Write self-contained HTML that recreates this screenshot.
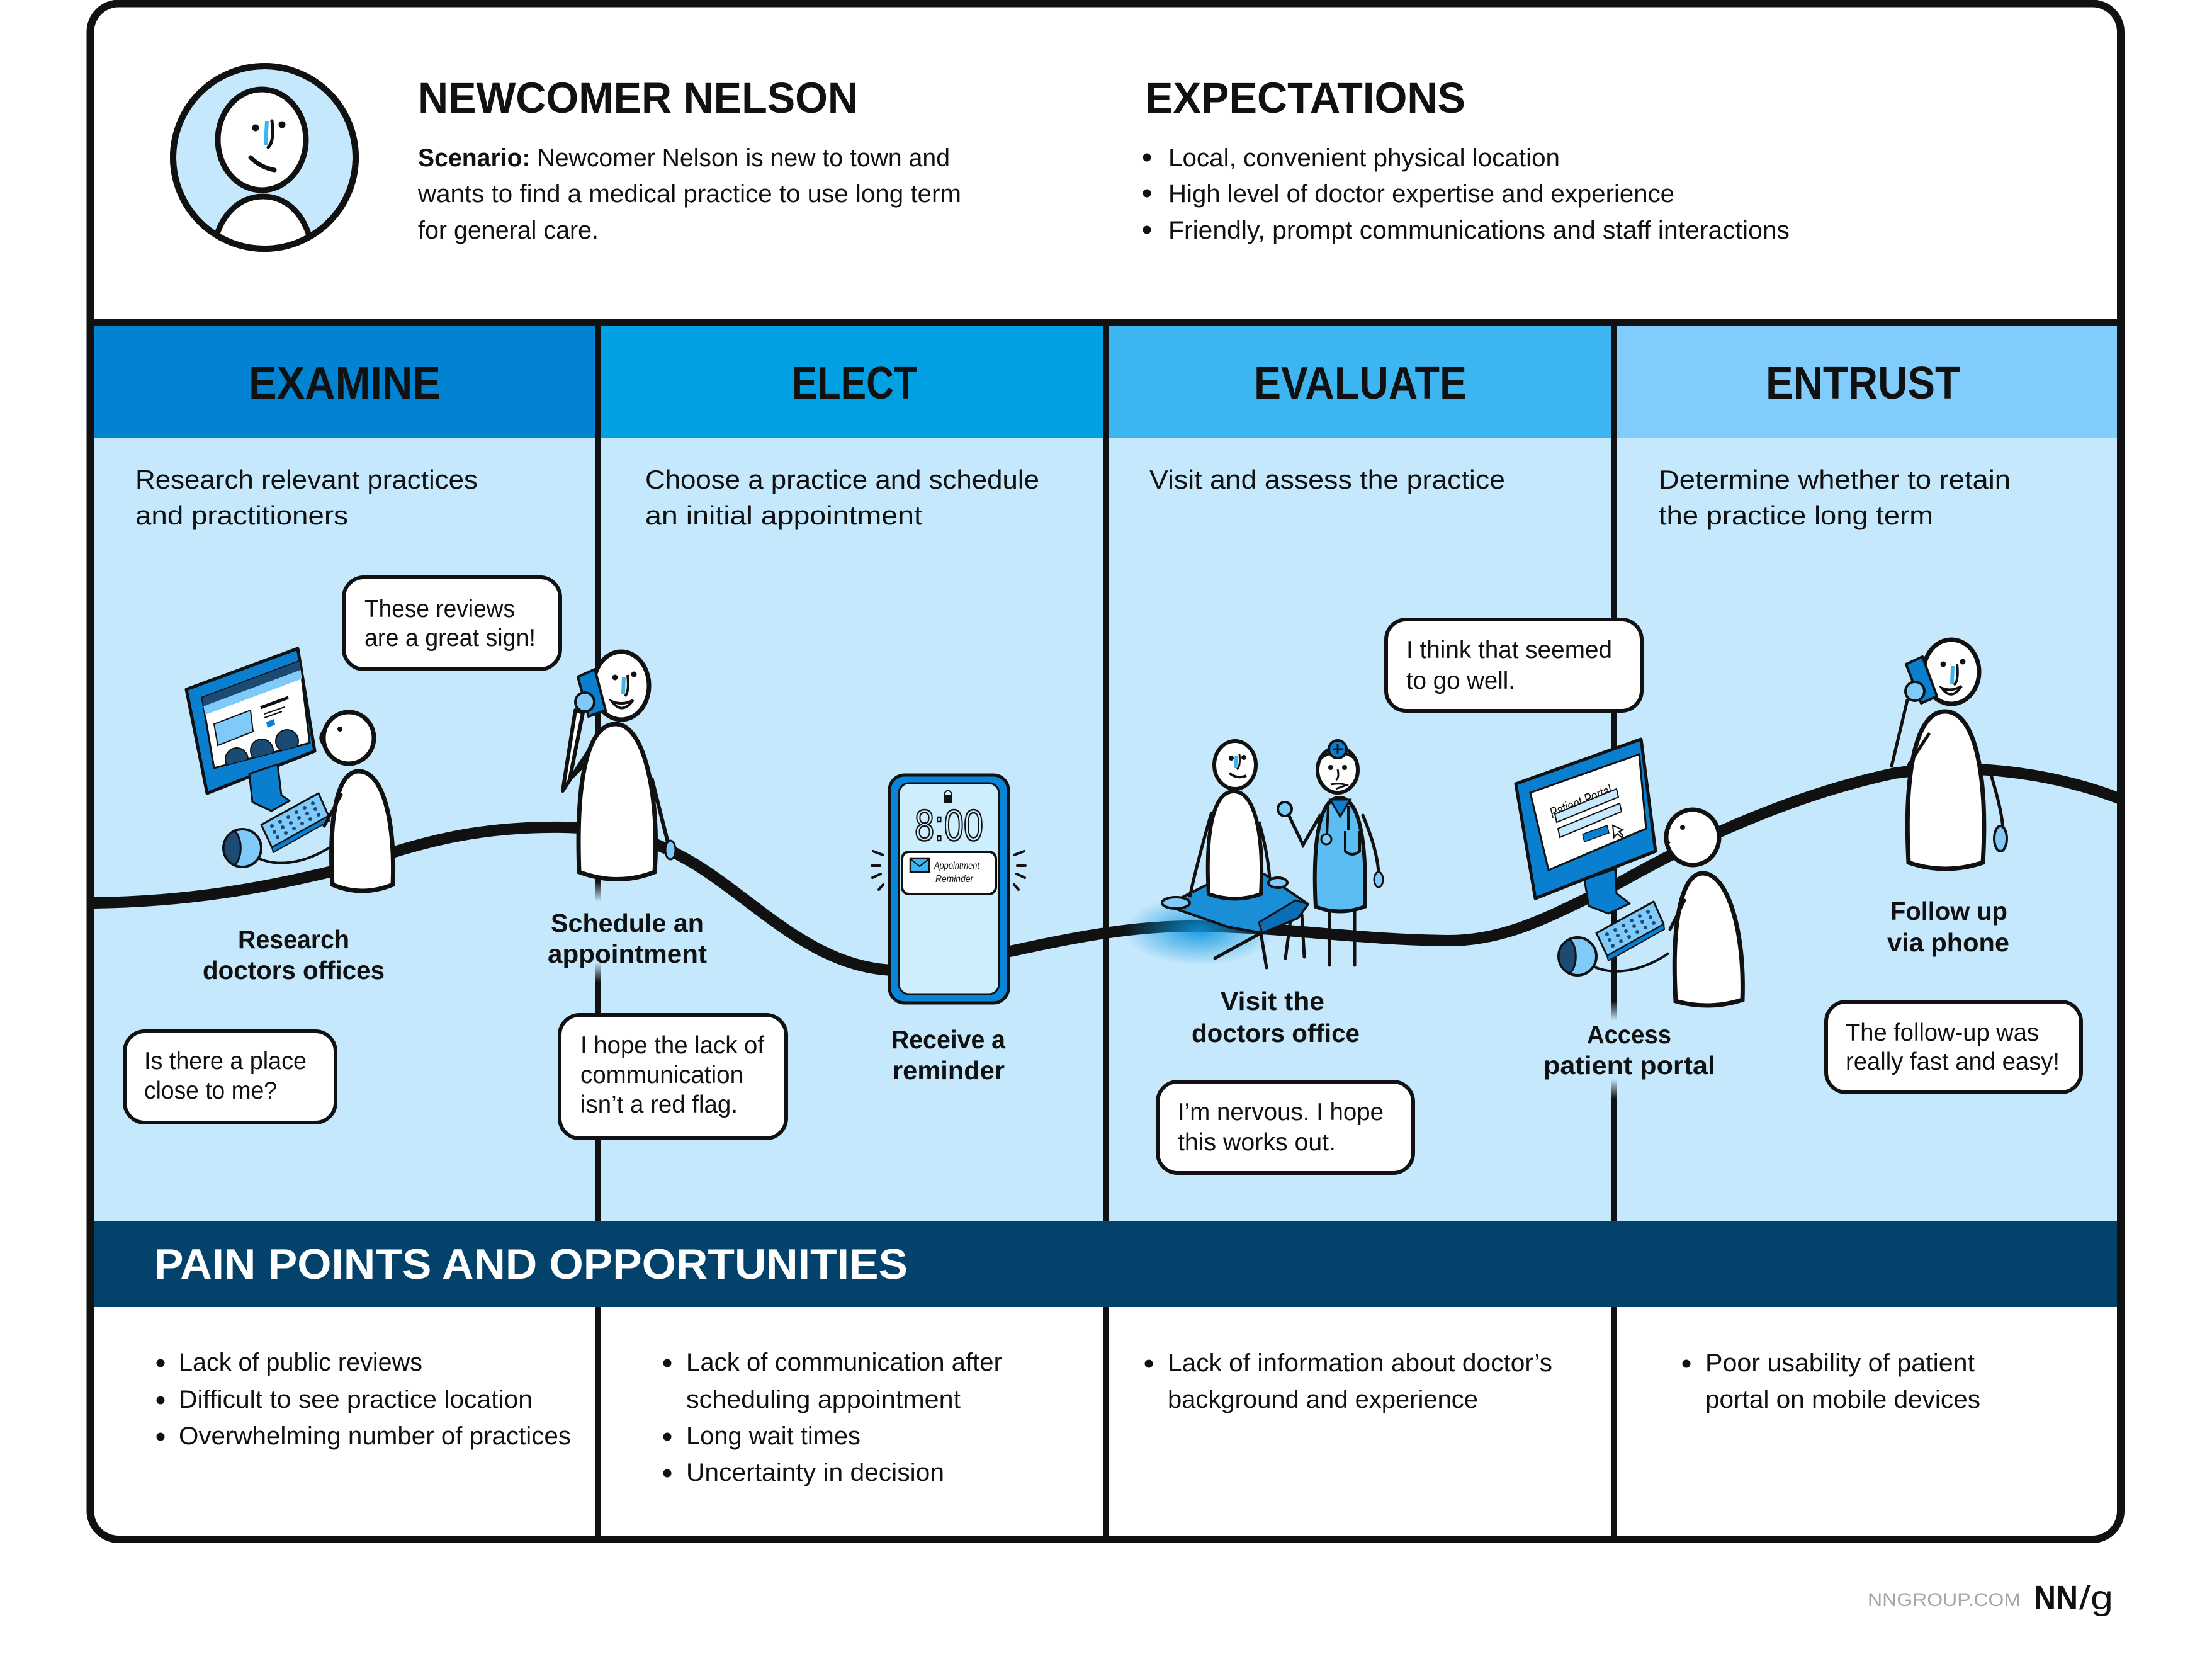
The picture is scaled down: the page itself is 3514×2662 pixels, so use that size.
<!DOCTYPE html>
<html><head><meta charset="utf-8"><style>
html,body{margin:0;padding:0;background:#fff;}
svg{display:block;}
text{font-family:"Liberation Sans",Arial,sans-serif;fill:#111;}
</style></head><body>
<svg width="3514" height="2662" viewBox="0 0 3514 2662" xmlns="http://www.w3.org/2000/svg">
<defs>
<linearGradient id="fadeV" x1="0" y1="0" x2="0" y2="1">
<stop offset="0" stop-color="#c5e8fc" stop-opacity="0"/>
<stop offset="0.2" stop-color="#c5e8fc" stop-opacity="1"/>
<stop offset="0.8" stop-color="#c5e8fc" stop-opacity="1"/>
<stop offset="1" stop-color="#c5e8fc" stop-opacity="0"/>
</linearGradient>
<radialGradient id="glow" cx="0.5" cy="0.5" r="0.5">
<stop offset="0" stop-color="#0a95de" stop-opacity="0.9"/>
<stop offset="1" stop-color="#0a95de" stop-opacity="0"/>
</radialGradient>
<clipPath id="avc"><circle cx="420" cy="250" r="141"/></clipPath>
<clipPath id="scr1c"><polygon points="321,1108 476,1050 492,1180 340,1220"/></clipPath>
<g id="kbm">
<polygon points="415,1310 506,1260 522,1296 432,1346" fill="#7fcaf8" stroke="#111" stroke-width="3" stroke-linejoin="round"/>
<polygon points="432,1346 522,1296 523,1304 434,1354" fill="#0a7fcf" stroke="#111" stroke-width="2"/>
<g fill="#1b4a72">
<circle cx="432" cy="1312" r="3"/><circle cx="445" cy="1305" r="3"/><circle cx="458" cy="1298" r="3"/><circle cx="471" cy="1290" r="3"/><circle cx="484" cy="1283" r="3"/><circle cx="497" cy="1276" r="3"/>
<circle cx="436" cy="1321" r="3"/><circle cx="449" cy="1314" r="3"/><circle cx="462" cy="1307" r="3"/><circle cx="475" cy="1299" r="3"/><circle cx="488" cy="1292" r="3"/><circle cx="501" cy="1285" r="3"/>
<circle cx="441" cy="1330" r="3"/><circle cx="454" cy="1323" r="3"/><circle cx="467" cy="1316" r="3"/><circle cx="480" cy="1308" r="3"/><circle cx="493" cy="1301" r="3"/><circle cx="506" cy="1294" r="3"/>
</g>
<path d="M 408,1362 C 440,1378 485,1372 530,1342" fill="none" stroke="#111" stroke-width="4"/>
<circle cx="385" cy="1347" r="30" fill="#7fcaf8" stroke="#111" stroke-width="4"/>
<path d="M 372,1320 A 30 30 0 0 0 372,1374 A 14 28 0 0 0 372,1320 Z" fill="#1b4a72" stroke="#111" stroke-width="3"/>
</g>
</defs>

<rect width="3514" height="2662" fill="#fff"/>

<!-- stage header bands -->
<rect x="145" y="517" width="805" height="180" fill="#0283d1"/>
<rect x="950" y="517" width="807" height="180" fill="#00a0e3"/>
<rect x="1757" y="517" width="807" height="180" fill="#3db5f1"/>
<rect x="2564" y="517" width="805" height="180" fill="#80ccfc"/>
<!-- body -->
<rect x="145" y="696" width="3224" height="1244" fill="#c5e8fc"/>
<!-- separator -->
<rect x="145" y="506" width="3224" height="11" fill="#111"/>
<!-- dividers -->
<rect x="946" y="511" width="8" height="1934" fill="#111"/>
<rect x="1753" y="511" width="8" height="1934" fill="#111"/>
<rect x="2560" y="511" width="8" height="1934" fill="#111"/>
<rect x="940" y="1400" width="20" height="160" fill="url(#fadeV)"/>
<rect x="2554" y="1590" width="20" height="155" fill="url(#fadeV)"/>

<!-- journey curve -->
<path d="M150,1434 C 300,1432 420,1410 527,1384 C 640,1350 720,1316 870,1314 C 980,1312 1040,1335 1100,1370 C 1200,1430 1290,1537 1420,1541 L 1600,1512 C 1700,1490 1800,1470 1900,1471 C 2050,1473 2150,1492 2300,1494 C 2400,1494 2470,1450 2571,1403 C 2700,1330 2850,1262 3010,1228 C 3150,1208 3280,1235 3366,1268" fill="none" stroke="#111" stroke-width="18" stroke-linecap="round"/>

<!-- avatar -->
<circle cx="420" cy="250" r="145" fill="#c5e8fc" stroke="#111" stroke-width="10"/>
<path d="M 338,410 C 342,345 378,312 418,312 C 458,312 492,345 498,410 Z" fill="#fff" stroke="#111" stroke-width="9" clip-path="url(#avc)"/>
<circle cx="420" cy="250" r="145" fill="none" stroke="#111" stroke-width="10"/>
<ellipse cx="416" cy="222" rx="70" ry="80" fill="#fff" stroke="#111" stroke-width="9"/>
<circle cx="406" cy="203" r="5.5" fill="#111"/><circle cx="448" cy="198" r="5.5" fill="#111"/>
<path d="M 424,192 L 422,230" stroke="#3db5f1" stroke-width="6" fill="none"/>
<path d="M 432,192 Q 436,225 426,234" stroke="#111" stroke-width="5" fill="none" stroke-linecap="round"/>
<path d="M 398,250 Q 414,266 436,270" stroke="#111" stroke-width="7" fill="none" stroke-linecap="round"/>

<!-- Figure 1: research -->
<polygon points="296,1095 473,1030 500,1193 329,1260" fill="#0a7fcf" stroke="#111" stroke-width="5" stroke-linejoin="round"/>
<polygon points="321,1108 476,1050 492,1180 340,1220" fill="#fff" stroke="#111" stroke-width="3"/>
<g clip-path="url(#scr1c)">
<polygon points="321,1108 476,1050 478,1064 323,1122" fill="#1b4a72"/>
<polygon points="323,1122 478,1064 480,1078 324,1136" fill="#7fcaf8"/>
<polygon points="340,1150 398,1128 402,1162 346,1184" fill="#7fcaf8" stroke="#111" stroke-width="2"/>
<line x1="414" y1="1124" x2="458" y2="1108" stroke="#111" stroke-width="5"/>
<line x1="420" y1="1134" x2="452" y2="1123" stroke="#111" stroke-width="2"/>
<line x1="420" y1="1140" x2="448" y2="1130" stroke="#111" stroke-width="2"/>
<polygon points="423,1147 435,1142 437,1151 425,1156" fill="#0a7fcf"/>
<circle cx="376" cy="1206" r="18" fill="#1b4a72" stroke="#111" stroke-width="2"/>
<circle cx="416" cy="1192" r="18" fill="#1b4a72" stroke="#111" stroke-width="2"/>
<circle cx="456" cy="1177" r="18" fill="#1b4a72" stroke="#111" stroke-width="2"/>
</g>
<polygon points="396,1229 441,1214 447,1263 460,1272 431,1288 401,1274" fill="#0a7fcf" stroke="#111" stroke-width="3" stroke-linejoin="round"/>
<use href="#kbm"/>
<path d="M 570,1225 C 535,1225 522,1300 528,1405 Q 575,1425 624,1405 C 628,1310 610,1225 570,1225 Z" fill="#fff" stroke="#111" stroke-width="7"/>
<path d="M 542,1262 L 515,1312" stroke="#111" stroke-width="5" fill="none" stroke-linecap="round"/>
<ellipse cx="554" cy="1172" rx="40" ry="41" fill="#fff" stroke="#111" stroke-width="7"/>
<path d="M 517,1158 Q 503,1172 516,1184" stroke="#111" stroke-width="5" fill="none"/>
<circle cx="540" cy="1158" r="4" fill="#111"/>

<!-- Figure 2: schedule -->
<polyline points="938,1188 894,1256 914,1128 926,1132 905,1238 942,1200" fill="#fff" stroke="#111" stroke-width="6" stroke-linejoin="round"/>
<path d="M 1035,1235 L 1062,1342" stroke="#111" stroke-width="6" fill="none"/>
<ellipse cx="1065" cy="1350" rx="8" ry="15" fill="#7fcaf8" stroke="#111" stroke-width="3"/>
<path d="M 978,1150 C 930,1150 915,1250 920,1385 Q 982,1408 1040,1385 C 1048,1270 1025,1150 978,1150 Z" fill="#fff" stroke="#111" stroke-width="7"/>
<ellipse cx="987" cy="1089" rx="44" ry="54" fill="#fff" stroke="#111" stroke-width="7"/>
<circle cx="977" cy="1076" r="4.5" fill="#111"/><circle cx="1007" cy="1071" r="4.5" fill="#111"/>
<path d="M 991,1075 L 990,1103" stroke="#3db5f1" stroke-width="6"/>
<path d="M 997,1072 Q 1000,1098 993,1106" stroke="#111" stroke-width="4" fill="none"/>
<path d="M 972,1114 Q 988,1136 1006,1112 Q 990,1121 972,1114 Z" fill="#fff" stroke="#111" stroke-width="4"/>
<polygon points="918,1075 945,1063 962,1128 935,1138" fill="#0a7fcf" stroke="#111" stroke-width="4" stroke-linejoin="round"/>
<circle cx="929" cy="1115" r="15" fill="#7fcaf8" stroke="#111" stroke-width="4"/>

<!-- Figure 3: phone -->
<g stroke="#111" stroke-width="4" stroke-linecap="round">
<line x1="1387" y1="1352" x2="1403" y2="1358"/><line x1="1385" y1="1375" x2="1398" y2="1375"/><line x1="1386" y1="1394" x2="1399" y2="1388"/><line x1="1396" y1="1413" x2="1403" y2="1405"/>
<line x1="1627" y1="1352" x2="1611" y2="1358"/><line x1="1629" y1="1375" x2="1616" y2="1375"/><line x1="1628" y1="1394" x2="1615" y2="1388"/><line x1="1618" y1="1413" x2="1611" y2="1405"/>
</g>
<rect x="1413" y="1231" width="189" height="362" rx="24" fill="#0a84d6" stroke="#111" stroke-width="5"/>
<rect x="1428" y="1244" width="159" height="335" rx="16" fill="#cdeefc" stroke="#111" stroke-width="3"/>
<rect x="1499" y="1263" width="14" height="12" rx="2" fill="#111"/>
<path d="M 1501,1264 L 1501,1259 Q 1506,1252 1511,1259 L 1511,1264" stroke="#111" stroke-width="2" fill="none"/>
<text x="1453" y="1335" font-size="70" textLength="109" lengthAdjust="spacingAndGlyphs" style="fill:none;stroke:#111;stroke-width:2.5">8:00</text>
<rect x="1433" y="1353" width="149" height="67" rx="11" fill="#fff" stroke="#111" stroke-width="4"/>
<rect x="1446" y="1363" width="30" height="22" fill="#3db5f0" stroke="#111" stroke-width="2.5"/>
<path d="M 1446,1364 L 1461,1376 L 1476,1364" stroke="#111" stroke-width="2" fill="none"/>
<text x="1484" y="1380" font-size="16" font-style="italic" textLength="72" lengthAdjust="spacingAndGlyphs">Appointment</text>
<text x="1486" y="1401" font-size="16" font-style="italic" textLength="60" lengthAdjust="spacingAndGlyphs">Reminder</text>

<!-- Figure 4: doctor's office -->
<ellipse cx="1905" cy="1478" rx="120" ry="55" fill="url(#glow)"/>
<g stroke="#111" stroke-width="5" stroke-linecap="round" fill="none">
<line x1="2003" y1="1482" x2="2012" y2="1537"/><line x1="2050" y1="1462" x2="2042" y2="1522"/><line x1="2068" y1="1452" x2="2072" y2="1520"/><line x1="1930" y1="1522" x2="2003" y2="1482"/>
</g>
<polygon points="1852,1438 1918,1405 2008,1388 2078,1436 2062,1458 2005,1482 1950,1472" fill="#1a8fd8" stroke="#111" stroke-width="4" stroke-linejoin="round"/>
<polygon points="2005,1482 2062,1458 2078,1436 2058,1430 2000,1465" fill="#0a6db5" stroke="#111" stroke-width="3" stroke-linejoin="round"/>
<path d="M 1925,1290 C 1910,1340 1895,1400 1890,1425" stroke="#111" stroke-width="5" fill="none"/>
<ellipse cx="1868" cy="1434" rx="22" ry="9" fill="#7fcaf8" stroke="#111" stroke-width="4"/>
<path d="M 2000,1305 C 2010,1340 2015,1370 2017,1395" stroke="#111" stroke-width="5" fill="none"/>
<ellipse cx="2030" cy="1402" rx="15" ry="8" fill="#7fcaf8" stroke="#111" stroke-width="4"/>
<path d="M 1960,1257 C 1925,1257 1915,1330 1920,1420 Q 1962,1435 2003,1420 C 2008,1330 1995,1257 1960,1257 Z" fill="#fff" stroke="#111" stroke-width="6"/>
<ellipse cx="1962" cy="1215" rx="33" ry="38" fill="#fff" stroke="#111" stroke-width="6"/>
<circle cx="1956" cy="1204" r="4" fill="#111"/><circle cx="1976" cy="1203" r="4" fill="#111"/>
<path d="M 1964,1200 L 1963,1220" stroke="#3db5f1" stroke-width="5"/>
<path d="M 1969,1198 Q 1971,1218 1965,1222" stroke="#111" stroke-width="3" fill="none"/>
<path d="M 1953,1228 Q 1965,1238 1980,1232" stroke="#111" stroke-width="4" fill="none"/>
<g stroke="#111" stroke-width="5" fill="none" stroke-linecap="round">
<line x1="2112" y1="1445" x2="2112" y2="1533"/><line x1="2152" y1="1445" x2="2152" y2="1533"/>
<path d="M 2165,1295 C 2180,1330 2188,1360 2190,1385"/>
<path d="M 2097,1295 L 2070,1342 L 2046,1292"/>
</g>
<ellipse cx="2190" cy="1397" rx="7" ry="12" fill="#7fcaf8" stroke="#111" stroke-width="3"/>
<circle cx="2041" cy="1285" r="11" fill="#7fcaf8" stroke="#111" stroke-width="4"/>
<path d="M 2128,1267 C 2095,1267 2085,1340 2090,1440 Q 2128,1455 2168,1440 C 2172,1340 2160,1267 2128,1267 Z" fill="#5bbdf2" stroke="#111" stroke-width="6"/>
<polygon points="2113,1270 2145,1270 2129,1297" fill="#0a7fcf" stroke="#111" stroke-width="3"/>
<g stroke="#111" stroke-width="4" fill="none">
<path d="M 2110,1280 L 2108,1326"/>
<path d="M 2142,1280 L 2142,1318 M 2137,1320 L 2137,1352 Q 2148,1362 2160,1352 L 2160,1320"/>
</g>
<circle cx="2107" cy="1333" r="8" fill="#7fcaf8" stroke="#111" stroke-width="3"/>
<ellipse cx="2125" cy="1223" rx="32" ry="36" fill="#fff" stroke="#111" stroke-width="6"/>
<path d="M 2095,1207 Q 2125,1182 2155,1207" stroke="#111" stroke-width="4" fill="none"/>
<circle cx="2125" cy="1190" r="14" fill="#0a7fcf" stroke="#111" stroke-width="4"/>
<path d="M 2125,1182 V 1198 M 2117,1190 H 2133" stroke="#111" stroke-width="3"/>
<circle cx="2114" cy="1219" r="4" fill="#111"/><circle cx="2136" cy="1219" r="4" fill="#111"/>
<path d="M 2125,1222 Q 2128,1236 2122,1239" stroke="#111" stroke-width="3" fill="none"/>
<path d="M 2114,1246 Q 2128,1243 2139,1247 L 2122,1253" stroke="#111" stroke-width="3" fill="none"/>

<!-- Figure 5: patient portal -->
<polygon points="2408,1245 2607,1174 2630,1352 2439,1427" fill="#0a7fcf" stroke="#111" stroke-width="5" stroke-linejoin="round"/>
<polygon points="2431,1259 2604,1198 2615,1316 2460,1382" fill="#fff" stroke="#111" stroke-width="3"/>
<text x="2466" y="1300" font-size="24" font-style="italic" transform="rotate(-22 2466 1300)" textLength="104" lengthAdjust="spacingAndGlyphs">Patient Portal</text>
<polygon points="2470,1293 2568,1253 2571,1266 2473,1306" fill="#c5e8fc" stroke="#111" stroke-width="2"/>
<polygon points="2475,1316 2573,1276 2576,1289 2478,1330" fill="#c5e8fc" stroke="#111" stroke-width="2"/>
<polygon points="2514,1325 2553,1311 2556,1323 2517,1337" fill="#0a7fcf" stroke="#111" stroke-width="1.5"/>
<path d="M 2562,1311 L 2564,1330 L 2569,1324 L 2576,1330 L 2578,1327 L 2572,1321 L 2578,1318 Z" fill="#fff" stroke="#111" stroke-width="2"/>
<polygon points="2517,1397 2566,1380 2568,1419 2589,1435 2555,1451 2524,1439" fill="#0a7fcf" stroke="#111" stroke-width="3" stroke-linejoin="round"/>
<use href="#kbm" transform="translate(2121,172)"/>
<path d="M 2705,1387 C 2670,1387 2655,1470 2662,1590 Q 2715,1605 2768,1588 C 2772,1480 2745,1387 2705,1387 Z" fill="#fff" stroke="#111" stroke-width="7"/>
<path d="M 2676,1430 L 2653,1476" stroke="#111" stroke-width="5" fill="none" stroke-linecap="round"/>
<ellipse cx="2689" cy="1330" rx="42" ry="44" fill="#fff" stroke="#111" stroke-width="7"/>
<path d="M 2652,1314 Q 2640,1328 2652,1340" stroke="#111" stroke-width="5" fill="none"/>
<circle cx="2673" cy="1314" r="4" fill="#111"/>

<!-- Figure 6: follow up -->
<path d="M 3005,1217 L 3030,1112" stroke="#111" stroke-width="5" fill="none" stroke-linecap="round"/>
<path d="M 3160,1221 C 3172,1260 3180,1290 3182,1316" stroke="#111" stroke-width="5" fill="none"/>
<ellipse cx="3178" cy="1332" rx="10" ry="20" fill="#7fcaf8" stroke="#111" stroke-width="4"/>
<path d="M 3090,1130 C 3040,1130 3025,1240 3032,1370 Q 3090,1390 3150,1370 C 3158,1240 3140,1130 3090,1130 Z" fill="#fff" stroke="#111" stroke-width="7"/>
<path d="M 3032,1215 L 3064,1166" stroke="#111" stroke-width="5" fill="none" stroke-linecap="round"/>
<ellipse cx="3100" cy="1067" rx="44" ry="51" fill="#fff" stroke="#111" stroke-width="7"/>
<circle cx="3087" cy="1055" r="4.5" fill="#111"/><circle cx="3118" cy="1051" r="4.5" fill="#111"/>
<path d="M 3102,1058 L 3101,1086" stroke="#3db5f1" stroke-width="6"/>
<path d="M 3109,1055 Q 3112,1082 3104,1088" stroke="#111" stroke-width="4" fill="none"/>
<path d="M 3085,1093 Q 3100,1114 3116,1090 Q 3100,1099 3085,1093 Z" fill="#fff" stroke="#111" stroke-width="4"/>
<polygon points="3028,1055 3054,1043 3077,1106 3052,1117" fill="#0a7fcf" stroke="#111" stroke-width="4" stroke-linejoin="round"/>
<circle cx="3042" cy="1098" r="15" fill="#7fcaf8" stroke="#111" stroke-width="4"/>

<!-- bubbles -->
<g fill="#fff" stroke="#111" stroke-width="6">
<rect x="546" y="917" width="344" height="146" rx="32"/>
<rect x="198" y="1638" width="335" height="145" rx="32"/>
<rect x="889" y="1612" width="360" height="196" rx="32"/>
<rect x="2202" y="984" width="406" height="145" rx="32"/>
<rect x="1839" y="1718" width="406" height="145" rx="32"/>
<rect x="2901" y="1591" width="405" height="144" rx="32"/>
</g>
<g font-size="39">
<text x="579" y="980" textLength="239" lengthAdjust="spacingAndGlyphs">These reviews</text>
<text x="579" y="1026" textLength="272" lengthAdjust="spacingAndGlyphs">are a great sign!</text>
<text x="229" y="1698" textLength="258" lengthAdjust="spacingAndGlyphs">Is there a place</text>
<text x="229" y="1745" textLength="211" lengthAdjust="spacingAndGlyphs">close to me?</text>
<text x="922" y="1673" textLength="292" lengthAdjust="spacingAndGlyphs">I hope the lack of</text>
<text x="922" y="1720" textLength="259" lengthAdjust="spacingAndGlyphs">communication</text>
<text x="922" y="1767" textLength="250" lengthAdjust="spacingAndGlyphs">isn’t a red flag.</text>
<text x="2234" y="1045" textLength="327" lengthAdjust="spacingAndGlyphs">I think that seemed</text>
<text x="2234" y="1094" textLength="173" lengthAdjust="spacingAndGlyphs">to go well.</text>
<text x="1871" y="1779" textLength="327" lengthAdjust="spacingAndGlyphs">I’m nervous. I hope</text>
<text x="1871" y="1827" textLength="251" lengthAdjust="spacingAndGlyphs">this works out.</text>
<text x="2932" y="1653" textLength="307" lengthAdjust="spacingAndGlyphs">The follow-up was</text>
<text x="2932" y="1699" textLength="340" lengthAdjust="spacingAndGlyphs">really fast and easy!</text>
</g>

<!-- step labels -->
<g font-size="41" font-weight="bold">
<text x="378" y="1506" textLength="177" lengthAdjust="spacingAndGlyphs">Research</text>
<text x="322" y="1555" textLength="289" lengthAdjust="spacingAndGlyphs">doctors offices</text>
<text x="875" y="1480" textLength="243" lengthAdjust="spacingAndGlyphs">Schedule an</text>
<text x="870" y="1529" textLength="253" lengthAdjust="spacingAndGlyphs">appointment</text>
<text x="1416" y="1665" textLength="181" lengthAdjust="spacingAndGlyphs">Receive a</text>
<text x="1418" y="1714" textLength="178" lengthAdjust="spacingAndGlyphs">reminder</text>
<text x="1939" y="1604" textLength="165" lengthAdjust="spacingAndGlyphs">Visit the</text>
<text x="1893" y="1655" textLength="267" lengthAdjust="spacingAndGlyphs">doctors office</text>
<text x="2521" y="1657" textLength="134" lengthAdjust="spacingAndGlyphs">Access</text>
<text x="2452" y="1706" textLength="273" lengthAdjust="spacingAndGlyphs">patient portal</text>
<text x="3003" y="1461" textLength="186" lengthAdjust="spacingAndGlyphs">Follow up</text>
<text x="2998" y="1511" textLength="194" lengthAdjust="spacingAndGlyphs">via phone</text>
</g>

<!-- header text -->
<text x="664" y="179" font-size="69" font-weight="bold" textLength="699" lengthAdjust="spacingAndGlyphs">NEWCOMER NELSON</text>
<text x="1819" y="179" font-size="69" font-weight="bold" textLength="509" lengthAdjust="spacingAndGlyphs">EXPECTATIONS</text>
<g font-size="40">
<text x="664" y="264" textLength="845" lengthAdjust="spacingAndGlyphs"><tspan font-weight="bold">Scenario:</tspan> Newcomer Nelson is new to town and</text>
<text x="664" y="321" textLength="863" lengthAdjust="spacingAndGlyphs">wants to find a medical practice to use long term</text>
<text x="664" y="379" textLength="287" lengthAdjust="spacingAndGlyphs">for general care.</text>
<text x="1856" y="264" textLength="622" lengthAdjust="spacingAndGlyphs">Local, convenient physical location</text>
<text x="1856" y="321" textLength="804" lengthAdjust="spacingAndGlyphs">High level of doctor expertise and experience</text>
<text x="1856" y="379" textLength="987" lengthAdjust="spacingAndGlyphs">Friendly, prompt communications and staff interactions</text>
</g>
<g fill="#111">
<circle cx="1822" cy="250" r="6.5"/><circle cx="1822" cy="307" r="6.5"/><circle cx="1822" cy="365" r="6.5"/>
</g>

<!-- stage titles -->
<g font-size="72" font-weight="bold">
<text x="395" y="633" textLength="305" lengthAdjust="spacingAndGlyphs">EXAMINE</text>
<text x="1258" y="633" textLength="199" lengthAdjust="spacingAndGlyphs">ELECT</text>
<text x="1992" y="633" textLength="338" lengthAdjust="spacingAndGlyphs">EVALUATE</text>
<text x="2805" y="633" textLength="309" lengthAdjust="spacingAndGlyphs">ENTRUST</text>
</g>

<!-- stage descriptions -->
<g font-size="42">
<text x="215" y="776" textLength="544" lengthAdjust="spacingAndGlyphs">Research relevant practices</text>
<text x="215" y="833" textLength="338" lengthAdjust="spacingAndGlyphs">and practitioners</text>
<text x="1025" y="776" textLength="626" lengthAdjust="spacingAndGlyphs">Choose a practice and schedule</text>
<text x="1025" y="833" textLength="440" lengthAdjust="spacingAndGlyphs">an initial appointment</text>
<text x="1826" y="776" textLength="565" lengthAdjust="spacingAndGlyphs">Visit and assess the practice</text>
<text x="2635" y="776" textLength="559" lengthAdjust="spacingAndGlyphs">Determine whether to retain</text>
<text x="2635" y="833" textLength="436" lengthAdjust="spacingAndGlyphs">the practice long term</text>
</g>

<!-- pain points band -->
<rect x="145" y="1939" width="3224" height="137" fill="#03426a"/>
<text x="245" y="2031" font-size="68" font-weight="bold" textLength="1197" lengthAdjust="spacingAndGlyphs" style="fill:#fff">PAIN POINTS AND OPPORTUNITIES</text>
<g font-size="40">
<text x="284" y="2177" textLength="387" lengthAdjust="spacingAndGlyphs">Lack of public reviews</text>
<text x="284" y="2236" textLength="562" lengthAdjust="spacingAndGlyphs">Difficult to see practice location</text>
<text x="284" y="2294" textLength="623" lengthAdjust="spacingAndGlyphs">Overwhelming number of practices</text>
<text x="1090" y="2177" textLength="502" lengthAdjust="spacingAndGlyphs">Lack of communication after</text>
<text x="1090" y="2236" textLength="436" lengthAdjust="spacingAndGlyphs">scheduling appointment</text>
<text x="1090" y="2294" textLength="277" lengthAdjust="spacingAndGlyphs">Long wait times</text>
<text x="1090" y="2352" textLength="410" lengthAdjust="spacingAndGlyphs">Uncertainty in decision</text>
<text x="1855" y="2178" textLength="611" lengthAdjust="spacingAndGlyphs">Lack of information about doctor’s</text>
<text x="1855" y="2236" textLength="493" lengthAdjust="spacingAndGlyphs">background and experience</text>
<text x="2709" y="2178" textLength="428" lengthAdjust="spacingAndGlyphs">Poor usability of patient</text>
<text x="2709" y="2236" textLength="437" lengthAdjust="spacingAndGlyphs">portal on mobile devices</text>
</g>
<g fill="#111">
<circle cx="255" cy="2165" r="6.5"/><circle cx="255" cy="2224" r="6.5"/><circle cx="255" cy="2282" r="6.5"/>
<circle cx="1060" cy="2165" r="6.5"/><circle cx="1060" cy="2282" r="6.5"/><circle cx="1060" cy="2340" r="6.5"/>
<circle cx="1825" cy="2166" r="6.5"/>
<circle cx="2679" cy="2166" r="6.5"/>
</g>

<!-- outer frame -->
<rect x="143.5" y="5.5" width="3225.5" height="2439.5" rx="45" fill="none" stroke="#111" stroke-width="12"/>

<!-- footer -->
<text x="2967" y="2551" font-size="30" textLength="243" lengthAdjust="spacingAndGlyphs" style="fill:#a6a6a6">NNGROUP.COM</text>
<text x="3231" y="2556" font-size="54" font-weight="bold" textLength="70" lengthAdjust="spacingAndGlyphs">NN</text>
<text x="3303" y="2556" font-size="54" textLength="54" lengthAdjust="spacingAndGlyphs">/g</text>
</svg>
</body></html>
